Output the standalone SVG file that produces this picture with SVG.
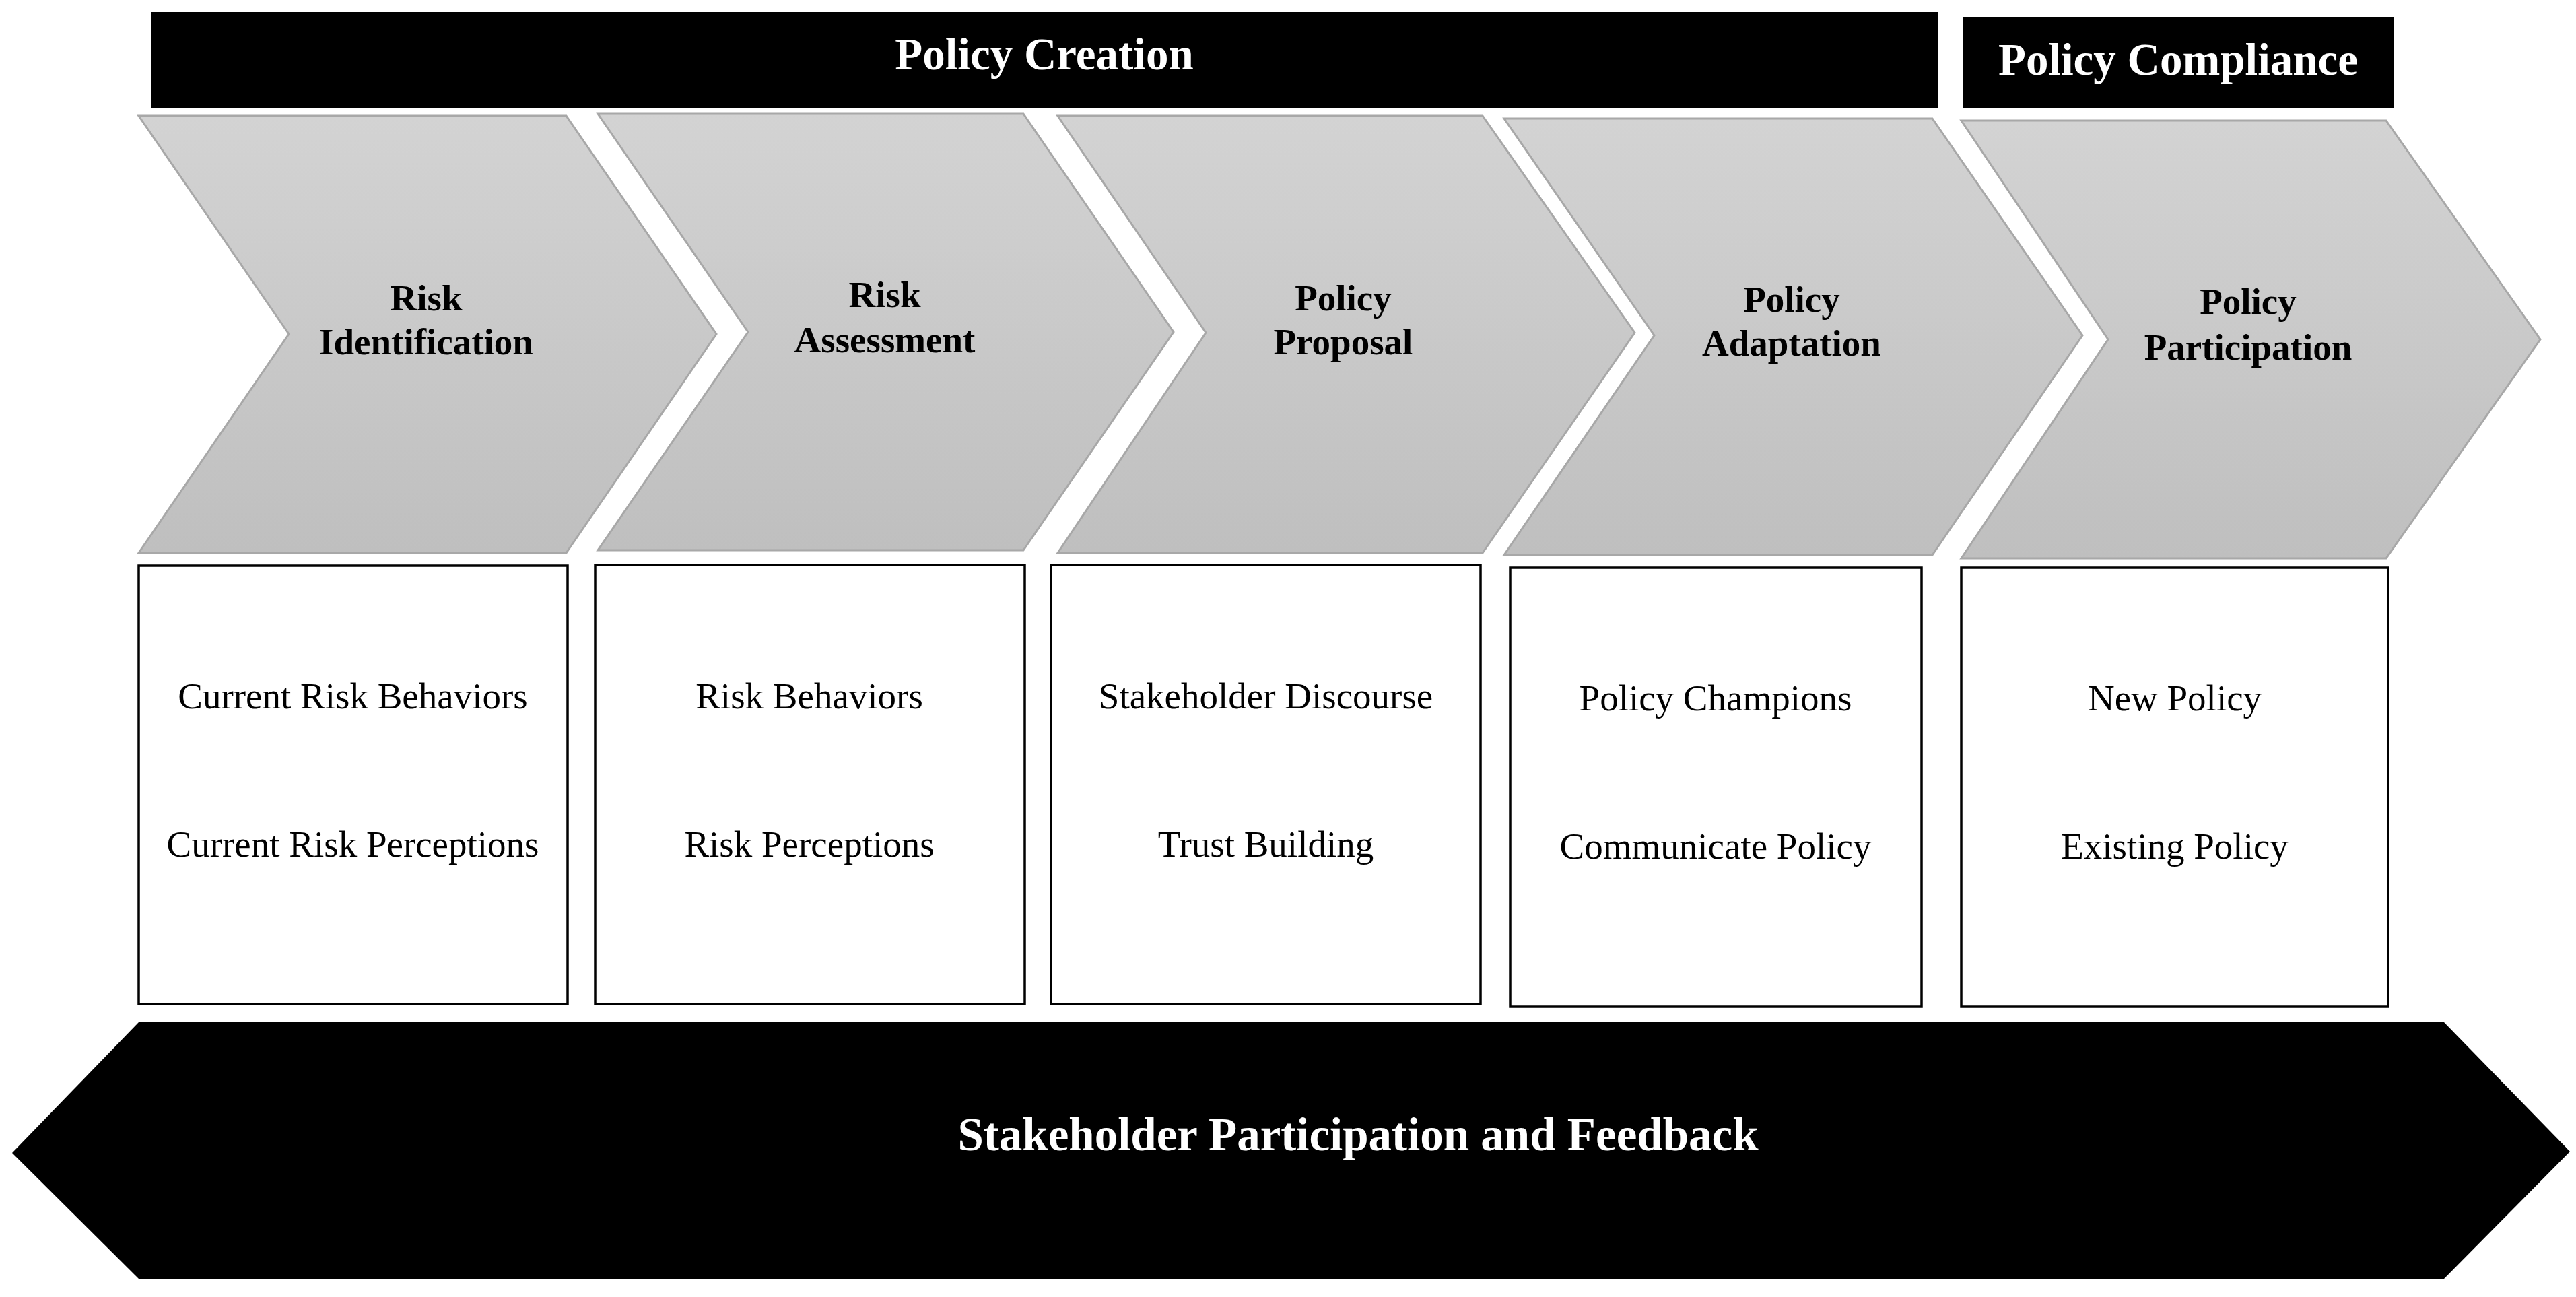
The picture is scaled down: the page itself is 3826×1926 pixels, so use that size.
<svg xmlns="http://www.w3.org/2000/svg" width="3826" height="1926" viewBox="0 0 3826 1926">
<defs>
<linearGradient id="chevGrad" x1="0" y1="0" x2="0" y2="1">
<stop offset="0" stop-color="#d3d3d3"/>
<stop offset="1" stop-color="#bfbfbf"/>
</linearGradient>
<style>
.bar{fill:#000}
.chev{fill:url(#chevGrad);stroke:#a8a8a8;stroke-width:3;stroke-linejoin:miter}
.box{fill:#fff;stroke:#000;stroke-width:3.5}
.hdr{font-family:"Liberation Serif","Times New Roman",serif;font-weight:bold;font-size:67px;fill:#fff;text-anchor:middle}
.lbl{font-family:"Liberation Serif","Times New Roman",serif;font-weight:bold;font-size:55px;fill:#000;text-anchor:middle}
.item{font-family:"Liberation Serif","Times New Roman",serif;font-size:55px;fill:#000;text-anchor:middle}
.foot{font-family:"Liberation Serif","Times New Roman",serif;font-weight:bold;font-size:69px;fill:#fff;text-anchor:middle}
</style>
</defs>
<rect width="3826" height="1926" fill="#fff"/>

<g id="policy-creation">
<rect class="bar" x="224" y="18" width="2654" height="142"/>
<text class="hdr" x="1551" y="103">Policy Creation</text>
</g>
<g id="policy-compliance">
<rect class="bar" x="2916" y="25" width="640" height="135"/>
<text class="hdr" x="3235" y="111">Policy Compliance</text>
</g>

<g id="risk-identification">
<polygon class="chev" points="206,172 841,172 1064,496 841,821 206,821 429,496"/>
<text class="lbl" x="633" y="461">Risk</text>
<text class="lbl" x="633" y="526">Identification</text>
</g>
<g id="risk-assessment">
<polygon class="chev" points="888,169 1520,169 1743,493 1520,817 888,817 1111,493"/>
<text class="lbl" x="1314" y="456">Risk</text>
<text class="lbl" x="1314" y="523">Assessment</text>
</g>
<g id="policy-proposal">
<polygon class="chev" points="1571,172 2202,172 2428,494 2202,821 1571,821 1791,494"/>
<text class="lbl" x="1995" y="461">Policy</text>
<text class="lbl" x="1995" y="526">Proposal</text>
</g>
<g id="policy-adaptation">
<polygon class="chev" points="2234,176 2870,176 3093,498 2870,824 2234,824 2457,498"/>
<text class="lbl" x="2661" y="463">Policy</text>
<text class="lbl" x="2661" y="528">Adaptation</text>
</g>
<g id="policy-participation">
<polygon class="chev" points="2913,179 3544,179 3773,504 3544,829 2913,829 3131,504"/>
<text class="lbl" x="3339" y="466">Policy</text>
<text class="lbl" x="3339" y="534">Participation</text>
</g>

<g id="box-identification">
<rect class="box" x="206" y="840" width="637" height="651"/>
<text class="item" x="524" y="1052">Current Risk Behaviors</text>
<text class="item" x="524" y="1272">Current Risk Perceptions</text>
</g>
<g id="box-assessment">
<rect class="box" x="884" y="839" width="638" height="652"/>
<text class="item" x="1202" y="1052">Risk Behaviors</text>
<text class="item" x="1202" y="1272">Risk Perceptions</text>
</g>
<g id="box-proposal">
<rect class="box" x="1561" y="839" width="638" height="652"/>
<text class="item" x="1880" y="1052">Stakeholder Discourse</text>
<text class="item" x="1880" y="1272">Trust Building</text>
</g>
<g id="box-adaptation">
<rect class="box" x="2243" y="843" width="611" height="652"/>
<text class="item" x="2548" y="1055">Policy Champions</text>
<text class="item" x="2548" y="1275">Communicate Policy</text>
</g>
<g id="box-participation">
<rect class="box" x="2913" y="843" width="634" height="652"/>
<text class="item" x="3230" y="1055">New Policy</text>
<text class="item" x="3230" y="1275">Existing Policy</text>
</g>

<g id="stakeholder-feedback">
<polygon class="bar" points="206,1518 3630,1518 3817,1710 3630,1899 206,1899 18,1712"/>
<text class="foot" x="2017" y="1708">Stakeholder Participation and Feedback</text>
</g>

<g id="connectors"></g>
</svg>
